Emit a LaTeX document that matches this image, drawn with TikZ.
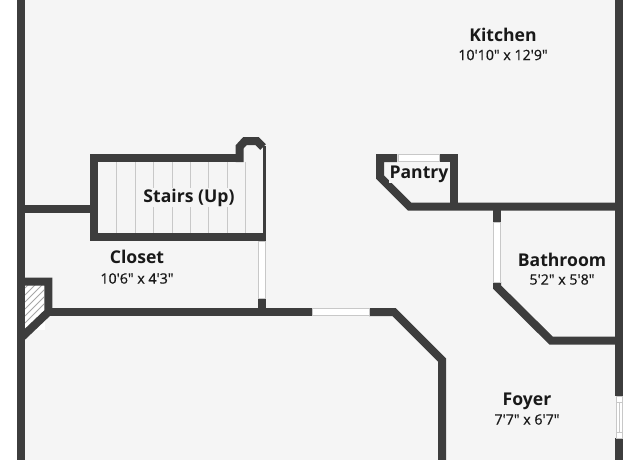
\documentclass[tikz,border=0pt]{standalone}
\usepackage{fontspec}
\newfontfamily\namefont{Open Sans}
\newfontfamily\sizefont{Open Sans}[FakeBold=0.7]
\usepackage{xcolor}
\definecolor{wallgray}{HTML}{3D3D3D}
\definecolor{floorgray}{HTML}{F5F5F5}
\definecolor{thingray}{HTML}{C8C8C8}
\tikzset{
  wall/.style={draw=wallgray, line width=8pt, miter limit=10},
  thinwall/.style={draw=wallgray, line width=3pt},
  winbox/.style={draw=thingray, fill=white, line width=1pt},
  riser/.style={draw=thingray, line width=1pt},
  hatch/.style={draw=black!35, line width=0.8pt},
  roomname/.style={font=\namefont\fontsize{17.6}{19}\selectfont\bfseries, text=black!90, fill=floorgray, inner sep=0.5pt},
  roomsize/.style={font=\sizefont\fontsize{14.2}{16}\selectfont, text=black!90, fill=floorgray, inner sep=0.5pt},
}
\begin{document}
\begin{tikzpicture}[x=1pt, y=-1pt]
    \useasboundingbox (0,0) rectangle (640,460);
    \fill[white] (0,0) rectangle (640,460);
    \fill[floorgray] (21,0) rectangle (619,460);
    % stairs
    \foreach \xpos in {116.7,135,153.7,172,190.3,208.7,227,245.7}
      \draw[riser] (\xpos,162) -- (\xpos,234);
    % closet nook
    \fill[white] (24,284) rectangle (45,330);
    \begin{scope}
      \clip (25,285) -- (44,285) -- (44,308) -- (25,327) -- cycle;
      \foreach \off in {0,7,...,56}
        \draw[hatch] (25,281+\off) -- (50,256+\off);
    \end{scope}
    % outer walls
    \draw[wall] (21,-5) -- (21,465);
    \draw[wall] (619,-5) -- (619,396);
    \draw[wall] (619,438) -- (619,465);
    % stairs walls
    \draw[wall] (25,209) -- (94,209);
    \draw[wall] (239.5,158) -- (94,158) -- (94,237) -- (266,237);
    \draw[wall] (239.5,162) -- (239.5,147) -- (245,141) -- (257,141) -- (263,147);
    \draw[thinwall] (264.5,146) -- (264.5,237);
    % closet and lower room
    \draw[wall] (21,281.5) -- (48.3,281.5) -- (48.3,312) -- (21,338);
    \draw[wall] (48,312) -- (312,312);
    \draw[wall] (369,312) -- (394,312) -- (442,360) -- (442,465);
    \draw[wall] (261.7,298) -- (261.7,312);
    % pantry
    \draw[wall] (397,158) -- (380,158) -- (380,177) -- (409.5,206.5) -- (619,206.5);
    \draw[wall] (439,158) -- (454.3,158) -- (454.3,206.5);
    % bathroom
    \draw[wall] (497,206.5) -- (497,222);
    \draw[wall] (497,282) -- (497,287) -- (551,340.5) -- (619,340.5);
    % windows and doors
    \draw[winbox] (258,241) rectangle (265.5,298);
    \draw[winbox] (312,308.5) rectangle (369,315.5);
    \draw[winbox] (398,154.5) rectangle (439,161.5);
    \draw[winbox] (493,222) rectangle (500.5,282);
    \draw[winbox] (616,396) rectangle (622.5,438);
    \draw[riser] (616,402) -- (622.5,402) (616,432) -- (622.5,432) (619.2,402) -- (619.2,432);
    % labels
    \node[roomname] (kitchen) at (503,35) {Kitchen};
    \node[roomsize] (kitchensize) at (503,55) {10'10" x 12'9"};
    \node[roomname] (stairs) at (189,197.5) {Stairs (Up)};
    \node[roomname] (closet) at (137,257) {Closet};
    \node[roomsize] (closetsize) at (137,278.5) {10'6" x 4'3"};
    \node[roomname] (pantry) at (419,174.5) {Pantry};
    \node[roomname] (bathroom) at (562,259.5) {Bathroom};
    \node[roomsize] (bathroomsize) at (562,279.5) {5'2" x 5'8"};
    \node[roomname] (foyer) at (527,401) {Foyer};
    \node[roomsize] (foyersize) at (527,419.5) {7'7" x 6'7"};
\end{tikzpicture}
\end{document}
